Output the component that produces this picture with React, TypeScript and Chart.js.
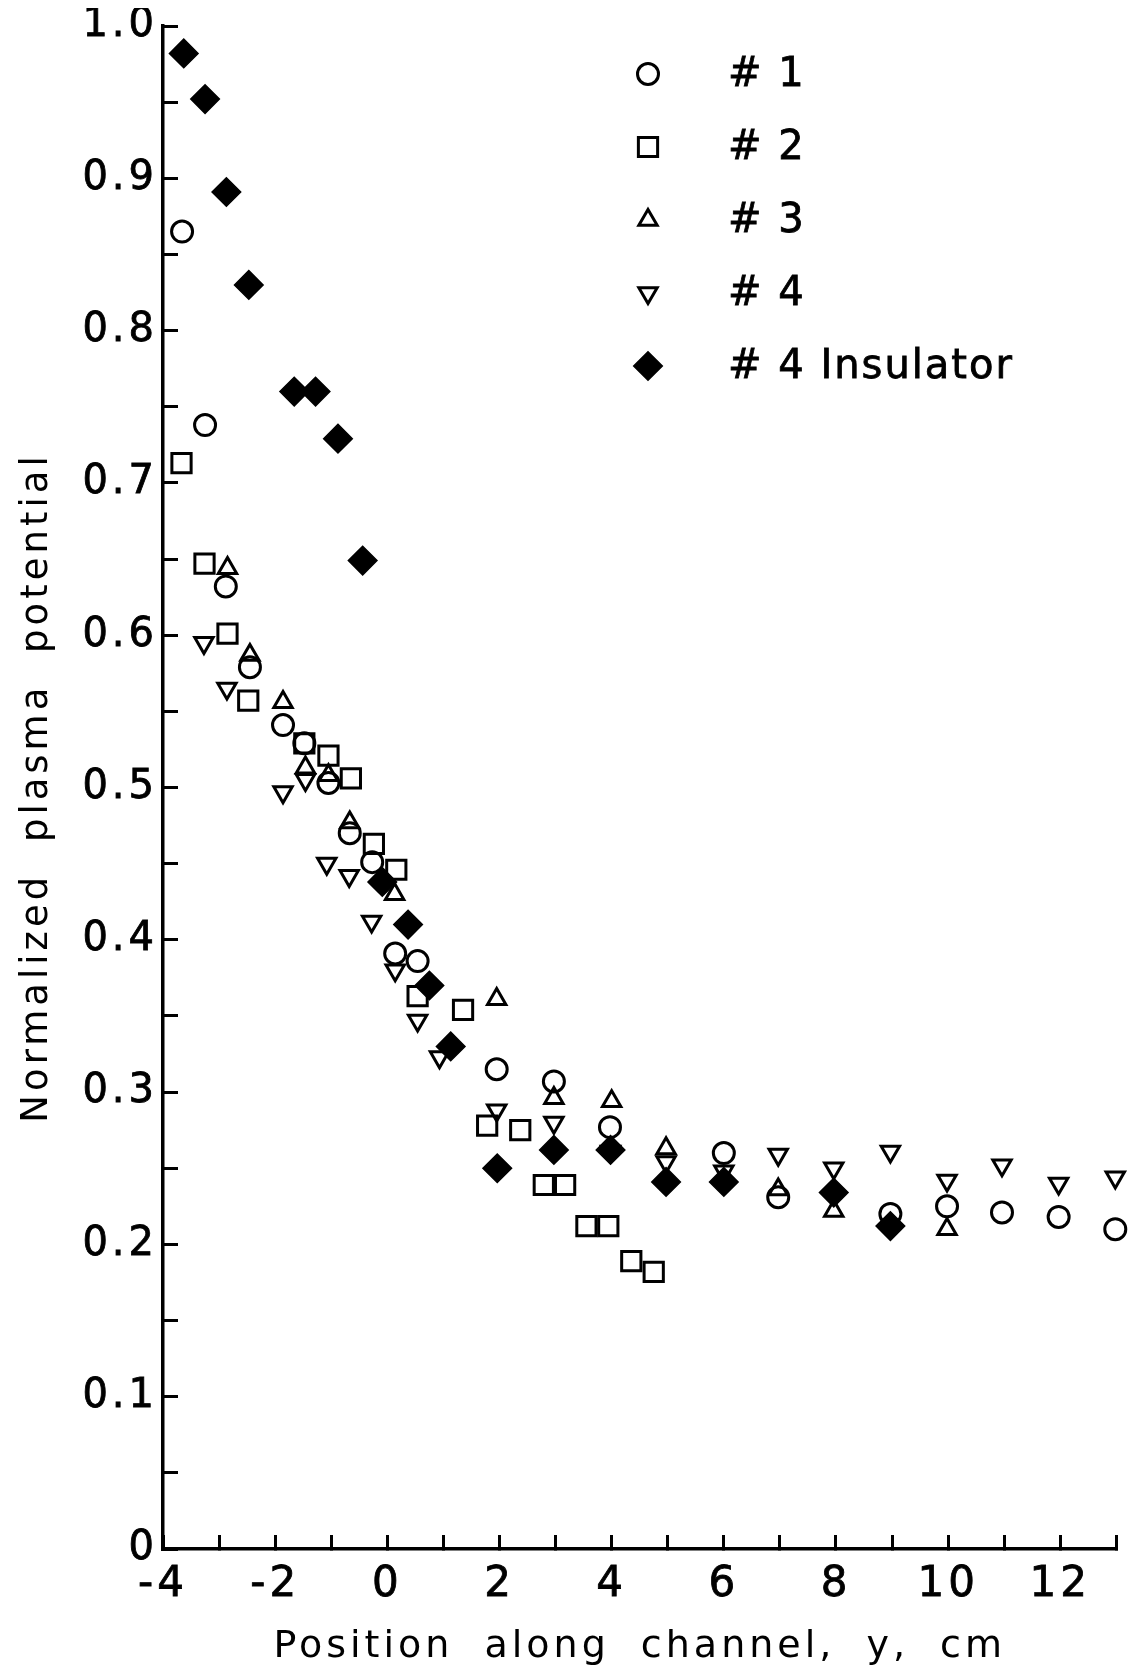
import React, { useEffect, useRef } from 'react';
import { Chart, registerables } from 'chart.js';
import { drawPoint } from 'chart.js/helpers';

Chart.register(...registerables);

const WIDTH = 1125;
const HEIGHT = 1664;

// Probe #1 (open circles)
const probe1X = [-3.66, -3.25, -2.88, -2.45, -1.86, -1.48, -1.05, -0.67, -0.27, 0.14, 0.54, 1.95, 2.97, 3.97, 6.0, 6.97, 8.97, 9.98, 10.96, 11.97, 12.98];
const probe1Y = [0.865, 0.738, 0.632, 0.579, 0.541, 0.529, 0.503, 0.47, 0.451, 0.391, 0.386, 0.315, 0.307, 0.277, 0.26, 0.231, 0.22, 0.225, 0.221, 0.218, 0.21];

// Probe #2 (open squares)
const probe2X = [-3.67, -3.26, -2.85, -2.48, -1.48, -1.05, -0.65, -0.24, 0.16, 0.54, 1.35, 1.78, 2.37, 2.79, 3.17, 3.55, 3.94, 4.35, 4.75];
const probe2Y = [0.713, 0.647, 0.601, 0.557, 0.529, 0.521, 0.506, 0.463, 0.446, 0.363, 0.354, 0.278, 0.275, 0.239, 0.239, 0.212, 0.212, 0.189, 0.182];

// Probe #3 (open triangles)
const probe3X = [-2.85, -2.45, -1.86, -1.46, -1.05, -0.67, 0.13, 1.95, 2.97, 4.0, 4.97, 6.97, 7.96, 9.98];
const probe3Y = [0.644, 0.587, 0.556, 0.513, 0.508, 0.477, 0.43, 0.361, 0.296, 0.294, 0.263, 0.236, 0.222, 0.21];

// Probe #4 (open inverted triangles)
const probe4X = [-3.27, -2.86, -1.86, -1.46, -1.08, -0.68, -0.28, 0.14, 0.54, 0.93, 1.95, 2.97, 3.98, 4.97, 6.0, 6.97, 7.96, 8.97, 9.98, 10.96, 11.97, 12.98];
const probe4Y = [0.595, 0.565, 0.497, 0.505, 0.45, 0.442, 0.412, 0.38, 0.347, 0.323, 0.288, 0.28, 0.261, 0.254, 0.248, 0.259, 0.25, 0.261, 0.242, 0.252, 0.24, 0.244];

// Probe #4 with insulator (filled diamonds)
const insulatorX = [-3.63, -3.25, -2.87, -2.47, -1.66, -1.28, -0.88, -0.44, -0.09, 0.37, 0.75, 1.13, 1.96, 2.97, 3.98, 4.97, 6.0, 7.96, 8.97];
const insulatorY = [0.982, 0.952, 0.891, 0.83, 0.76, 0.76, 0.729, 0.649, 0.438, 0.41, 0.37, 0.33, 0.25, 0.262, 0.262, 0.241, 0.241, 0.234, 0.212];

const seriesLabels = ['# 1', '# 2', '# 3', '# 4', '# 4 Insulator'];

const xTickValues = [-4, -3, -2, -1, 0, 1, 2, 3, 4, 5, 6, 7, 8, 9, 10, 11, 12, 13];
const xLabelValues = [-4, -2, 0, 2, 4, 6, 8, 10, 12];
const yTickValues = [0, 0.05, 0.1, 0.15, 0.2, 0.25, 0.3, 0.35, 0.4, 0.45, 0.5, 0.55, 0.6, 0.65, 0.7, 0.75, 0.8, 0.85, 0.9, 0.95, 1.0];
const yLabelValues = [0, 0.1, 0.2, 0.3, 0.4, 0.5, 0.6, 0.7, 0.8, 0.9, 1.0];

const FONT = "'DejaVu Sans', sans-serif";
const INK = '#000';
const HOLLOW = 'rgba(0,0,0,0)';

const toPoints = (xs: number[], ys: number[]) => xs.map((x, i) => ({ x, y: ys[i] }));

const markerStyles = [
  { pointStyle: 'circle', pointRadius: 10.5, pointRotation: 0, pointBorderWidth: 3, fill: HOLLOW },
  { pointStyle: 'rect', pointRadius: 13.6, pointRotation: 0, pointBorderWidth: 3, fill: HOLLOW },
  { pointStyle: 'triangle', pointRadius: 10.6, pointRotation: 0, pointBorderWidth: 3, fill: HOLLOW },
  { pointStyle: 'triangle', pointRadius: 10.6, pointRotation: 180, pointBorderWidth: 3, fill: HOLLOW },
  { pointStyle: 'rectRot', pointRadius: 14.3, pointRotation: 0, pointBorderWidth: 1.5, fill: INK },
];

// legend placement inside the plot, canvas pixels
const LEGEND_MARKER_X = 640;
const LEGEND_TEXT_X = 720;
const LEGEND_TOP = 66;
const LEGEND_ROW = 73;

// spaced lettering for titles and tick labels
const letterSpacingPlugin = {
  id: 'letterSpacing',
  beforeDraw(chart: any) {
    const ctx = chart.ctx as any;
    ctx.letterSpacing = '4px';
    ctx.wordSpacing = '15px';
  },
};

const insetLegendPlugin = {
  id: 'insetLegend',
  afterDraw(chart: any) {
    const ctx = chart.ctx as any;
    ctx.save();
    ctx.letterSpacing = '2px';
    ctx.wordSpacing = '0px';
    ctx.font = `40px ${FONT}`;
    ctx.textBaseline = 'middle';
    ctx.textAlign = 'left';
    chart.data.datasets.forEach((ds: any, i: number) => {
      const y = LEGEND_TOP + i * LEGEND_ROW;
      ctx.fillStyle = ds.pointBackgroundColor;
      ctx.strokeStyle = ds.pointBorderColor;
      ctx.lineWidth = ds.pointBorderWidth;
      drawPoint(
        ctx,
        {
          pointStyle: ds.pointStyle,
          rotation: ds.pointRotation,
          radius: ds.pointRadius,
          borderWidth: ds.pointBorderWidth,
        } as any,
        LEGEND_MARKER_X,
        y
      );
      ctx.fillStyle = INK;
      ctx.strokeStyle = INK;
      ctx.lineWidth = 0.8;
      ctx.strokeText(ds.label, LEGEND_TEXT_X, y + 2);
      ctx.fillText(ds.label, LEGEND_TEXT_X, y + 2);
    });
    ctx.restore();
  },
};

const seriesData = [
  toPoints(probe1X, probe1Y),
  toPoints(probe2X, probe2Y),
  toPoints(probe3X, probe3Y),
  toPoints(probe4X, probe4Y),
  toPoints(insulatorX, insulatorY),
];

// keep the plot area fixed: no extra room for overhanging tick labels
const zeroScalePadding = (scale: any) => {
  scale.paddingTop = 0;
  scale.paddingBottom = 0;
  scale.paddingLeft = 0;
  scale.paddingRight = 0;
};

export default function App() {
  const canvasRef = useRef<HTMLCanvasElement | null>(null);

  useEffect(() => {
    if (!canvasRef.current) return;
    Chart.defaults.font.family = FONT;
    Chart.defaults.color = INK;

    const datasets = seriesData.map((data, i) => {
      const s = markerStyles[i];
      return {
        label: seriesLabels[i],
        data,
        showLine: false,
        clip: false as any,
        order: i === 4 ? 0 : 1 + i,
        pointStyle: s.pointStyle,
        pointRadius: s.pointRadius,
        pointRotation: s.pointRotation,
        pointBorderWidth: s.pointBorderWidth,
        pointBorderColor: INK,
        pointBackgroundColor: s.fill,
        borderColor: INK,
        backgroundColor: s.fill,
      };
    });

    const chart = new Chart(canvasRef.current, {
      type: 'scatter',
      data: { datasets } as any,
      options: {
        animation: false,
        responsive: false,
        devicePixelRatio: 1,
        events: [],
        layout: { padding: { top: 18, right: 9, bottom: 0, left: 0 } },
        plugins: {
          legend: { display: false },
          tooltip: { enabled: false },
        },
        scales: {
          x: {
            type: 'linear',
            min: -4,
            max: 13,
            afterBuildTicks: (scale: any) => {
              scale.ticks = xTickValues.map((v) => ({ value: v }));
            },
            afterFit: (scale: any) => {
              scale.height = 123;
              zeroScalePadding(scale);
            },
            border: { display: true, color: INK, width: 3.5 },
            grid: {
              drawOnChartArea: false,
              drawTicks: true,
              tickLength: -14,
              tickWidth: 3,
              tickColor: INK,
              color: INK,
              lineWidth: 3,
            },
            ticks: {
              autoSkip: false,
              maxRotation: 0,
              minRotation: 0,
              padding: 25,
              color: INK,
              textStrokeColor: INK,
              textStrokeWidth: 0.8,
              font: { size: 42, family: FONT },
              callback: (value: any) => (xLabelValues.includes(value) ? String(value) : ''),
            },
            title: {
              display: true,
              text: 'Position along channel, y, cm',
              color: INK,
              font: { size: 38, family: FONT },
              padding: { top: 0, bottom: 2 },
            },
          },
          y: {
            type: 'linear',
            min: 0,
            max: 1,
            afterBuildTicks: (scale: any) => {
              scale.ticks = yTickValues.map((v) => ({ value: v }));
            },
            afterFit: (scale: any) => {
              scale.width = 155;
              zeroScalePadding(scale);
            },
            border: { display: true, color: INK, width: 3.5 },
            grid: {
              drawOnChartArea: false,
              drawTicks: true,
              tickLength: -15,
              tickWidth: 3,
              tickColor: INK,
              color: INK,
              lineWidth: 3,
            },
            ticks: {
              autoSkip: false,
              padding: 20,
              color: INK,
              textStrokeColor: INK,
              textStrokeWidth: 0.8,
              font: { size: 40, family: FONT },
              callback: (value: any) =>
                yLabelValues.includes(value) ? (value === 0 ? '0' : Number(value).toFixed(1)) : '',
            },
            title: {
              display: true,
              text: 'Normalized plasma potential',
              color: INK,
              font: { size: 37, family: FONT },
              padding: { top: 7, bottom: 0 },
            },
          },
        },
      } as any,
      plugins: [letterSpacingPlugin, insetLegendPlugin],
    });

    return () => chart.destroy();
  }, []);

  return (
    <div style={{ width: WIDTH, height: HEIGHT, background: '#fff' }}>
      <canvas ref={canvasRef} width={WIDTH} height={HEIGHT} style={{ display: 'block', width: WIDTH, height: HEIGHT }} />
    </div>
  );
}
